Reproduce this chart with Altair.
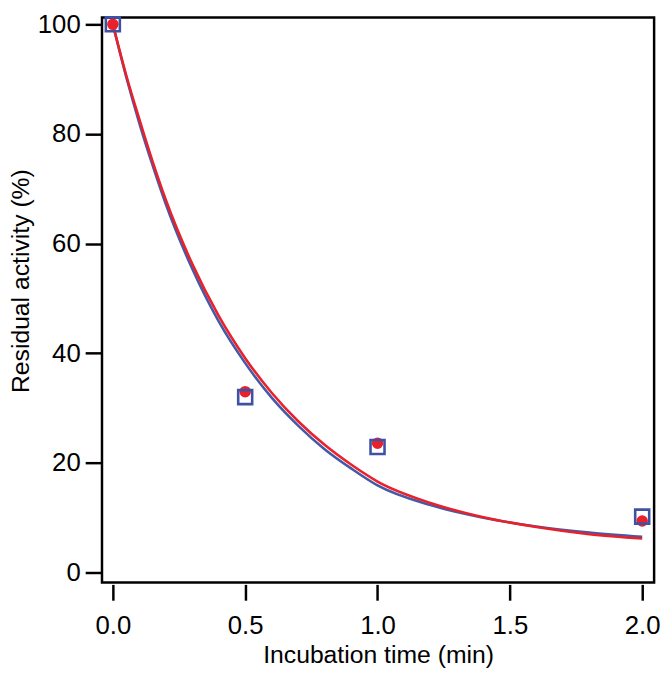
import altair as alt
import pandas as pd

# Fitted curves
t_curve = [0, 0.05, 0.1, 0.15, 0.2, 0.3, 0.4, 0.5, 0.6, 0.7, 0.8, 0.9, 1.0, 1.2, 1.4, 1.6, 1.8, 2.0]
blue_curve = [100, 90.5, 82.0, 74.3, 67.2, 55.4, 45.8, 38.2, 31.9, 26.8, 22.5, 19.0, 15.9, 12.3, 10.0, 8.4, 7.3, 6.5]
red_curve = [100, 90.8, 82.7, 75.0, 68.0, 56.3, 46.8, 39.1, 32.8, 27.6, 23.3, 19.7, 16.6, 12.7, 10.1, 8.3, 7.0, 6.2]

# Measured points
t_points = [0, 0.5, 1.0, 2.0]
blue_points = [100, 32.0, 22.9, 10.2]
red_points = [100, 33.0, 23.6, 9.4]

x_ticks = [0, 0.5, 1.0, 1.5, 2.0]
y_ticks = [0, 20, 40, 60, 80, 100]

BLUE = "#4659a7"
RED = "#e8212b"
FONT = "Liberation Sans"

curves = pd.DataFrame(
    [{"t": t, "v": v, "s": "blue"} for t, v in zip(t_curve, blue_curve)]
    + [{"t": t, "v": v, "s": "red"} for t, v in zip(t_curve, red_curve)]
)
pts_blue = pd.DataFrame({"t": t_points, "v": blue_points})
pts_red = pd.DataFrame({"t": t_points, "v": red_points})

W, H = 558, 571

xscale = alt.Scale(domain=[-0.041, 2.045], nice=False, zero=False)
yscale = alt.Scale(domain=[-1.8, 101.26], nice=False, zero=False)

xaxis = alt.Axis(
    values=x_ticks, format=".1f", title="Incubation time (min)", grid=False,
    domain=False, tickSize=16, tickWidth=2.5, tickColor="black", offset=2,
    labelFont=FONT, labelFontSize=26, labelColor="black", labelPadding=13,
    titleFont=FONT, titleFontSize=25, titleFontWeight="normal", titleColor="black",
    titleX=W / 2, titleY=71, titleBaseline="middle",
)
yaxis = alt.Axis(
    values=y_ticks, format="d", title="Residual activity (%)", grid=False,
    domain=False, tickSize=17, tickWidth=2.5, tickColor="black",
    labelFont=FONT, labelFontSize=26, labelColor="black", labelPadding=5,
    titleFont=FONT, titleFontSize=25, titleFontWeight="normal", titleColor="black",
    titleX=-82, titleY=266, titleBaseline="middle", titleAngle=-90,
)

color = alt.Color("s:N", scale=alt.Scale(domain=["blue", "red"], range=[BLUE, RED]), legend=None)

lines = alt.Chart(curves).mark_line(strokeWidth=2.6, interpolate="monotone").encode(
    x=alt.X("t:Q", scale=xscale, axis=xaxis),
    y=alt.Y("v:Q", scale=yscale, axis=yaxis),
    color=color,
    detail="s:N",
)

circles = alt.Chart(pts_red).mark_point(
    shape="circle", filled=True, color=RED, size=135, opacity=1
).encode(x=alt.X("t:Q", scale=xscale), y=alt.Y("v:Q", scale=yscale))

squares = alt.Chart(pts_blue).mark_point(
    shape="square", filled=False, color="#3f51a3", size=200, strokeWidth=2.6, opacity=1
).encode(x=alt.X("t:Q", scale=xscale), y=alt.Y("v:Q", scale=yscale))

chart = (
    alt.layer(lines, circles, squares)
    .properties(
        width=W, height=H,
        autosize=alt.AutoSizeParams(type="none"),
        padding={"left": 95, "top": 6, "right": 10, "bottom": 85},
    )
    .configure_view(stroke="black", strokeWidth=2.5)
)

chart.save("out.html", embed_options={"renderer": "svg", "actions": False})
